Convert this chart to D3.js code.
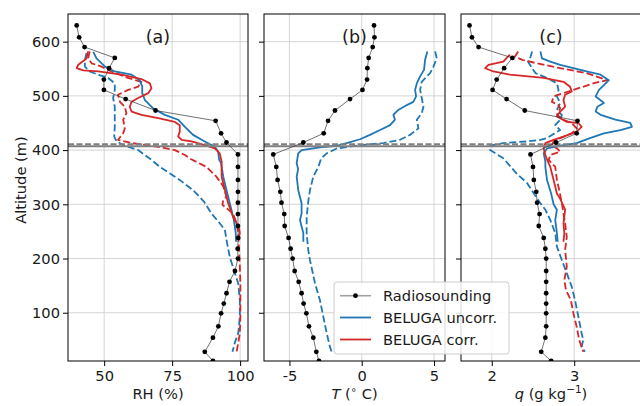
<!DOCTYPE html>
<html><head><meta charset="utf-8">
<script src="https://cdn.jsdelivr.net/npm/d3@7"></script>
<style>body{margin:0;background:#fff}svg{display:block}text{font-family:"DejaVu Sans",sans-serif;fill:#1a1a1a}</style>
</head><body><svg id="c" width="640" height="406"></svg>
<script>
// ---------- data ----------
const sondeAlt = [630,608,590,570,551,530,511,494,473,454,431,414,392,369,345,323,303,282,260,238,218,200,177,157,136,117,99,75,54,28,11];
const sondeRH = [39.9,40.8,42.8,53.9,51.8,49.9,49.9,57.9,68.9,91.0,93.0,95.0,99.2,99.2,99.2,99.2,99.2,99.2,99.2,99.3,99.1,99.2,98.1,96.1,95.0,94.0,93.0,92.0,90.0,87.0,90.0];
const sondeT = [0.85,0.88,0.76,0.48,0.39,0.37,0.05,-0.81,-1.85,-2.33,-2.63,-4.04,-6.12,-5.91,-5.82,-5.63,-5.55,-5.36,-5.33,-5.06,-4.92,-4.78,-4.64,-4.36,-4.16,-4.02,-3.83,-3.65,-3.35,-3.14,-2.96];
const sondeQ = [1.73,1.76,1.84,2.25,2.15,2.06,2.01,2.18,2.40,3.04,3.03,2.78,2.47,2.50,2.51,2.54,2.55,2.58,2.57,2.63,2.65,2.66,2.66,2.66,2.66,2.66,2.66,2.66,2.65,2.60,2.72];

// BELUGA profiles: [value, altitude]
const rhUncorrSolid = [[46.0,581],[47.2,569],[50.3,554],[53.9,545],[60.1,539],[63.1,529],[64.0,517],[64.0,505],[65.0,492],[68.0,477],[72.3,465],[77.2,456],[79.7,443],[82.7,428],[87.0,416],[90.7,406],[91.9,397],[92.3,382],[93.0,376],[93.8,351],[95.0,326],[96.2,302],[96.8,290],[97.7,271],[98.4,247],[98.5,231]];
const rhCorrSolid = [[44.1,582],[43.5,569],[40.4,557],[39.9,551],[42.3,547],[47.8,545],[56.4,539],[63.7,531],[66.8,523],[67.4,514],[66.2,505],[62.5,496],[60.1,489],[59.4,480],[60.1,471],[63.7,465],[69.9,459],[76.0,452],[77.8,446],[77.8,434],[77.2,425],[78.5,419],[82.1,416],[87.0,409],[90.7,403],[92.5,394],[93.2,379],[93.2,351],[94.4,326],[95.6,302],[97.4,277],[99.6,256],[99.9,247],[99.3,234]];
const rhCorrDashed = [[44.7,582],[44.1,569],[45.4,560],[49.0,554],[52.7,545],[58.8,533],[63.7,526],[62.5,517],[58.8,511],[55.1,502],[55.8,489],[57.6,480],[58.2,468],[57.0,456],[57.6,440],[57.0,431],[55.1,419],[60.1,413],[69.9,406],[76.0,400],[79.7,391],[82.0,383],[87.6,369],[91.3,351],[93.8,333],[95.0,314],[93.8,308],[93.5,299],[95.0,293],[97.4,283],[98.7,265],[99.3,247],[99.6,216],[99.9,185],[100.1,154],[100.1,123],[100.1,93],[99.9,62],[99.3,44],[98.7,28]];
const rhUncorrDashed = [[43.5,579],[42.9,566],[42.9,554],[44.7,545],[47.8,539],[51.5,533],[53.9,523],[53.9,511],[53.3,496],[53.9,480],[53.9,462],[53.9,443],[53.7,425],[54.6,416],[57.0,409],[62.5,400],[67.4,382],[70.5,369],[77.8,345],[82.7,326],[86.7,305],[89.5,283],[92.5,265],[94.4,253],[95.0,234],[96.2,203],[97.7,179],[99.3,154],[99.9,123],[99.9,93],[99.3,62],[98.0,44],[97.2,28]];

const tUncorrSolid = [[4.54,582],[4.38,566],[4.31,548],[4.04,536],[3.81,523],[3.69,511],[3.76,499],[3.57,489],[3.12,483],[2.53,474],[2.19,465],[2.30,456],[1.96,446],[1.27,437],[0.57,428],[-0.12,420],[-1.04,413],[-1.73,408],[-2.89,405],[-4.16,400],[-4.39,394],[-4.50,376],[-4.40,365],[-4.50,351],[-4.39,326],[-4.16,302],[-4.16,283],[-4.27,271],[-4.16,259],[-4.04,247],[-4.04,231]];
const tUncorrDashed = [[5.08,582],[5.19,569],[4.96,554],[4.73,542],[4.15,526],[4.04,511],[4.15,496],[4.27,480],[4.15,468],[3.81,456],[3.92,440],[3.34,428],[2.65,419],[1.50,413],[-0.12,409],[-1.73,403],[-2.42,394],[-2.80,385],[-3.00,369],[-3.35,351],[-3.58,326],[-3.70,305],[-3.81,277],[-3.81,247],[-3.70,216],[-3.58,197],[-3.23,154],[-2.89,123],[-2.66,93],[-2.42,62],[-2.20,37],[-2.04,25]];

const qUncorrSolid = [[2.59,582],[2.61,569],[2.71,563],[2.83,557],[2.99,551],[3.15,545],[3.32,539],[3.42,529],[3.36,520],[3.30,511],[3.26,499],[3.32,492],[3.36,487],[3.28,480],[3.26,471],[3.32,465],[3.50,456],[3.68,450],[3.70,443],[3.56,437],[3.36,431],[3.19,422],[3.03,413],[2.83,408],[2.67,403],[2.63,394],[2.65,379],[2.65,369],[2.67,345],[2.72,320],[2.75,300],[2.79,290],[2.77,271],[2.79,247],[2.80,231]];
const qCorrSolid = [[2.22,576],[2.14,563],[1.96,557],[1.92,551],[2.02,545],[2.22,539],[2.63,533],[2.87,526],[2.95,517],[2.97,508],[2.89,502],[2.87,492],[2.89,480],[2.83,471],[2.79,462],[2.91,452],[3.05,450],[3.09,443],[3.03,434],[2.87,425],[2.75,419],[2.65,413],[2.63,403],[2.65,391],[2.68,379],[2.71,369],[2.75,345],[2.79,320],[2.83,310],[2.89,290],[2.87,265],[2.88,247],[2.87,231]];
const qCorrDashed = [[2.32,582],[2.28,572],[2.38,566],[2.55,560],[2.83,551],[3.15,542],[3.40,529],[3.23,523],[2.99,511],[2.87,505],[2.75,499],[2.73,489],[2.81,483],[2.83,477],[2.79,465],[2.87,456],[2.97,450],[3.03,440],[2.97,431],[2.83,422],[2.75,416],[2.73,409],[2.79,403],[2.83,397],[2.71,391],[2.69,382],[2.77,369],[2.79,345],[2.82,325],[2.85,302],[2.87,283],[2.89,265],[2.91,240],[2.89,216],[2.91,185],[2.88,160],[2.90,142],[2.96,123],[2.99,99],[3.03,74],[3.06,50],[3.09,37],[3.11,28]];
const qUncorrDashed = [[2.49,582],[2.47,572],[2.44,563],[2.49,551],[2.53,542],[2.67,533],[2.79,523],[2.81,511],[2.79,499],[2.83,487],[2.79,474],[2.85,465],[2.83,456],[2.77,446],[2.83,437],[2.73,428],[2.67,422],[2.59,419],[2.43,416],[2.14,413],[1.98,408],[1.98,400],[2.14,385],[2.30,357],[2.43,339],[2.51,320],[2.59,302],[2.65,290],[2.71,271],[2.77,247],[2.79,222],[2.85,197],[2.91,173],[2.97,148],[3.01,123],[3.05,93],[3.09,62],[3.11,50],[3.09,37],[3.13,28]];

const altTicks = [100,200,300,400,500,600];
const rhTicks = [50,75,100];
const tTicks = [-5,0,5];
const qTicks = [2,3];
const inversionSolid = 407, inversionDashed = 411;
const legendLabels = ["Radiosounding","BELUGA uncorr.","BELUGA corr."];

// ---------- layout ----------
const BLUE = "#1f77b4", RED = "#d62728";
const svg = d3.select("#c");
const yTop = 14, yBot = 361;
const y = d3.scaleLinear().domain([11,651]).range([yBot,yTop]);
const FS = 14.67;

const panels = [
  {x0:68, x1:248, dom:[36.7,102.9], ticks:rhTicks, tag:"(a)", sonde:sondeRH, showY:true,
   lines:[[rhUncorrDashed,BLUE,true],[rhCorrDashed,RED,true],[rhUncorrSolid,BLUE,false],[rhCorrSolid,RED,false]]},
  {x0:264, x1:445, dom:[-6.76,5.76], ticks:tTicks, tag:"(b)", sonde:sondeT, showY:false,
   lines:[[tUncorrDashed,BLUE,true],[tUncorrSolid,BLUE,false]]},
  {x0:461, x1:641, dom:[1.627,3.81], ticks:qTicks, tag:"(c)", sonde:sondeQ, showY:false,
   lines:[[qUncorrDashed,BLUE,true],[qCorrDashed,RED,true],[qUncorrSolid,BLUE,false],[qCorrSolid,RED,false]]}
];

panels.forEach((p,i)=>{
  const x = d3.scaleLinear().domain(p.dom).range([p.x0,p.x1]);
  const g = svg.append("g");
  const cid = "clip"+i;
  svg.append("clipPath").attr("id",cid).append("rect")
    .attr("x",p.x0).attr("y",yTop).attr("width",p.x1-p.x0).attr("height",yBot-yTop);
  // grid
  g.selectAll(".gy").data(altTicks).enter().append("line")
    .attr("x1",p.x0).attr("x2",p.x1).attr("y1",d=>y(d)).attr("y2",d=>y(d))
    .attr("stroke","#d0d0d0").attr("stroke-width",0.9);
  g.selectAll(".gx").data(p.ticks).enter().append("line")
    .attr("x1",d=>x(d)).attr("x2",d=>x(d)).attr("y1",yTop).attr("y2",yBot)
    .attr("stroke","#d0d0d0").attr("stroke-width",0.9);
  const plot = g.append("g").attr("clip-path",`url(#${cid})`);
  const line = d3.line().x(d=>x(d[0])).y(d=>y(d[1]));
  p.lines.forEach(([data,col,dashed])=>{
    plot.append("path").datum(data).attr("d",line).attr("fill","none")
      .attr("stroke",col).attr("stroke-width",1.8)
      .attr("stroke-dasharray",dashed?"7,3":null).attr("stroke-linejoin","round");
  });
  // inversion lines
  plot.append("line").attr("x1",p.x0).attr("x2",p.x1)
    .attr("y1",y(inversionSolid)).attr("y2",y(inversionSolid))
    .attr("stroke","#808080").attr("stroke-width",2);
  plot.append("line").attr("x1",p.x0).attr("x2",p.x1)
    .attr("y1",y(inversionDashed)).attr("y2",y(inversionDashed))
    .attr("stroke","#808080").attr("stroke-width",2).attr("stroke-dasharray","6,2.5");
  // sonde
  const sd = sondeAlt.map((a,k)=>[p.sonde[k],a]);
  plot.append("path").datum(sd).attr("d",line).attr("fill","none")
    .attr("stroke","#333").attr("stroke-width",0.7);
  plot.selectAll(".dot").data(sd).enter().append("circle")
    .attr("cx",d=>x(d[0])).attr("cy",d=>y(d[1])).attr("r",2.4).attr("fill","#000");
  // frame
  g.append("rect").attr("x",p.x0).attr("y",yTop).attr("width",p.x1-p.x0).attr("height",yBot-yTop)
    .attr("fill","none").attr("stroke","#000").attr("stroke-width",1);
  // axes
  const ax = g.append("g").attr("transform",`translate(0,${yBot})`)
    .call(d3.axisBottom(x).tickValues(p.ticks).tickSize(5).tickPadding(5).tickFormat(d=>d<0?"-"+Math.abs(d):d));
  const ay = g.append("g").attr("transform",`translate(${p.x0},0)`)
    .call(d3.axisLeft(y).tickValues(altTicks).tickSize(5).tickPadding(3).tickFormat(p.showY?d3.format("d"):()=>""));
  [ax,ay].forEach(a=>{
    a.select(".domain").remove();
    a.selectAll("line").attr("stroke","#000");
    a.selectAll("text").attr("font-size",FS).attr("font-family","DejaVu Sans").attr("fill","#1a1a1a");
  });
  // panel tag
  g.append("text").attr("x",(p.x0+p.x1)/2).attr("y",43).attr("text-anchor","middle")
    .attr("font-size",17.5).text(p.tag);
});

// axis labels
svg.append("text").attr("x",158).attr("y",399).attr("text-anchor","middle").attr("font-size",FS).text("RH (%)");
const tl = svg.append("text").attr("x",354.5).attr("y",399).attr("text-anchor","middle").attr("font-size",FS);
tl.append("tspan").attr("font-style","italic").text("T");
tl.append("tspan").text(" (");
tl.append("tspan").attr("font-size",10).attr("dy",-6).text("∘");
tl.append("tspan").attr("dy",6).text(" C)");
const ql = svg.append("text").attr("x",551).attr("y",399).attr("text-anchor","middle").attr("font-size",FS);
ql.append("tspan").attr("font-style","italic").text("q");
ql.append("tspan").text(" (g kg");
ql.append("tspan").attr("font-size",10.5).attr("dy",-6).text("−1");
ql.append("tspan").attr("dy",6).text(")");
svg.append("text").attr("transform","translate(26,180) rotate(-90)").attr("text-anchor","middle")
  .attr("font-size",FS).text("Altitude (m)");

// legend
const lg = svg.append("g");
lg.append("rect").attr("x",334).attr("y",282).attr("width",175).attr("height",72).attr("rx",3)
  .attr("fill","#fff").attr("fill-opacity",0.85).attr("stroke","#cccccc").attr("stroke-width",1);
const rows = [295.7,317.5,339.5];
lg.append("line").attr("x1",340).attr("x2",371).attr("y1",rows[0]).attr("y2",rows[0]).attr("stroke","#a0a0a0").attr("stroke-width",1.6);
lg.append("circle").attr("cx",355.5).attr("cy",rows[0]).attr("r",2.4).attr("fill","#000");
lg.append("line").attr("x1",340).attr("x2",371).attr("y1",rows[1]).attr("y2",rows[1]).attr("stroke",BLUE).attr("stroke-width",1.8);
lg.append("line").attr("x1",340).attr("x2",371).attr("y1",rows[2]).attr("y2",rows[2]).attr("stroke",RED).attr("stroke-width",1.8);
legendLabels.forEach((t,k)=>{
  lg.append("text").attr("x",383).attr("y",rows[k]).attr("dy","0.36em").attr("font-size",FS).text(t);
});
</script></body></html>
